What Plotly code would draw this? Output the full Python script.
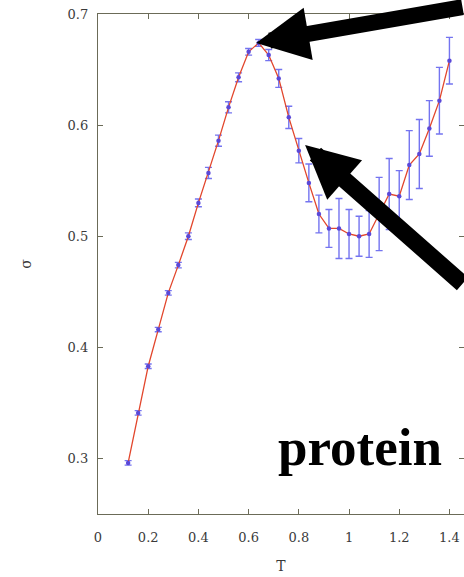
import plotly.graph_objects as go

# Data
T = [0.12, 0.16, 0.20, 0.24, 0.28, 0.32, 0.36, 0.40, 0.44, 0.48, 0.52,
     0.56, 0.60, 0.64, 0.68, 0.72, 0.76, 0.80, 0.84, 0.88, 0.92, 0.96,
     1.00, 1.04, 1.08, 1.12, 1.16, 1.20, 1.24, 1.28, 1.32, 1.36, 1.40]
sigma = [0.296, 0.341, 0.383, 0.416, 0.449, 0.474, 0.500, 0.530, 0.557,
         0.586, 0.616, 0.643, 0.666, 0.674, 0.663, 0.642, 0.607, 0.577,
         0.548, 0.520, 0.507, 0.507, 0.502, 0.500, 0.502, 0.520, 0.538,
         0.536, 0.564, 0.574, 0.597, 0.622, 0.658]
err = [0.002, 0.002, 0.002, 0.002, 0.002, 0.0025, 0.003, 0.0035, 0.005,
       0.005, 0.005, 0.004, 0.003, 0.003, 0.005, 0.008, 0.010, 0.011,
       0.017, 0.017, 0.017, 0.027, 0.022, 0.018, 0.021, 0.033, 0.032,
       0.023, 0.031, 0.031, 0.025, 0.030, 0.021]

x_ticks = [0, 0.2, 0.4, 0.6, 0.8, 1.0, 1.2, 1.4]
x_tick_labels = ["0", "0.2", "0.4", "0.6", "0.8", "1", "1.2", "1.4"]
y_ticks = [0.3, 0.4, 0.5, 0.6, 0.7]
y_tick_labels = ["0.3", "0.4", "0.5", "0.6", "0.7"]

axis_color = "#6b6b58"
tick_font = dict(family="DejaVu Serif", size=13, color="#3a3a3a")

fig = go.Figure()
fig.add_trace(go.Scatter(
    x=T, y=sigma,
    mode="lines+markers",
    line=dict(color="#e2462c", width=1.3),
    marker=dict(color="#5a48d8", size=4.5),
    error_y=dict(type="data", array=err, color="#7474f0", thickness=1.4, width=3.5),
    showlegend=False,
))

# Arrows pointing at the peak and at the descending branch
fig.add_annotation(x=0.63, y=0.674, xref="x", yref="y", ax=235, ay=-36,
                   axref="pixel", ayref="pixel", text="", showarrow=True,
                   arrowhead=2, arrowsize=0.66, arrowwidth=16, arrowcolor="black")
fig.add_annotation(x=0.825, y=0.582, xref="x", yref="y", ax=200, ay=140,
                   axref="pixel", ayref="pixel", text="", showarrow=True,
                   arrowhead=2, arrowsize=0.62, arrowwidth=17, arrowcolor="black")

fig.add_annotation(x=0.716, y=0.134, xref="paper", yref="paper", text="<b>protein</b>",
                   showarrow=False, xanchor="center", yanchor="middle",
                   font=dict(family="Liberation Serif", size=53, color="black"))

fig.update_layout(
    width=464, height=577,
    margin=dict(l=98, r=0, t=14, b=63),
    plot_bgcolor="white", paper_bgcolor="white",
    xaxis=dict(range=[0, 1.458], tickvals=x_ticks, ticktext=x_tick_labels,
               ticks="inside", ticklen=5, tickcolor=axis_color, showline=True,
               linecolor=axis_color, linewidth=1.3, mirror="ticks", showgrid=False,
               zeroline=False, tickfont=tick_font, ticklabelstandoff=11,
               ticklabeloverflow="allow",
               title=dict(text="T", font=dict(family="DejaVu Serif", size=14, color="#3a3a3a"),
                          standoff=17)),
    yaxis=dict(range=[0.25, 0.7], tickvals=y_ticks, ticktext=y_tick_labels,
               ticks="inside", ticklen=5, tickcolor=axis_color, showline=True,
               linecolor=axis_color, linewidth=1.3, mirror="ticks", showgrid=False,
               zeroline=False, tickfont=tick_font, ticklabelstandoff=6,
               ticklabeloverflow="allow",
               title=dict(text="σ", font=dict(family="DejaVu Serif", size=14, color="#3a3a3a"),
                          standoff=32)),
)

# Remove the browser's default 8px body margin so the figure fills the window
fig.write_html("out.html", config={"displayModeBar": False},
               post_script="document.body.style.margin='0';document.body.style.overflow='hidden';")
